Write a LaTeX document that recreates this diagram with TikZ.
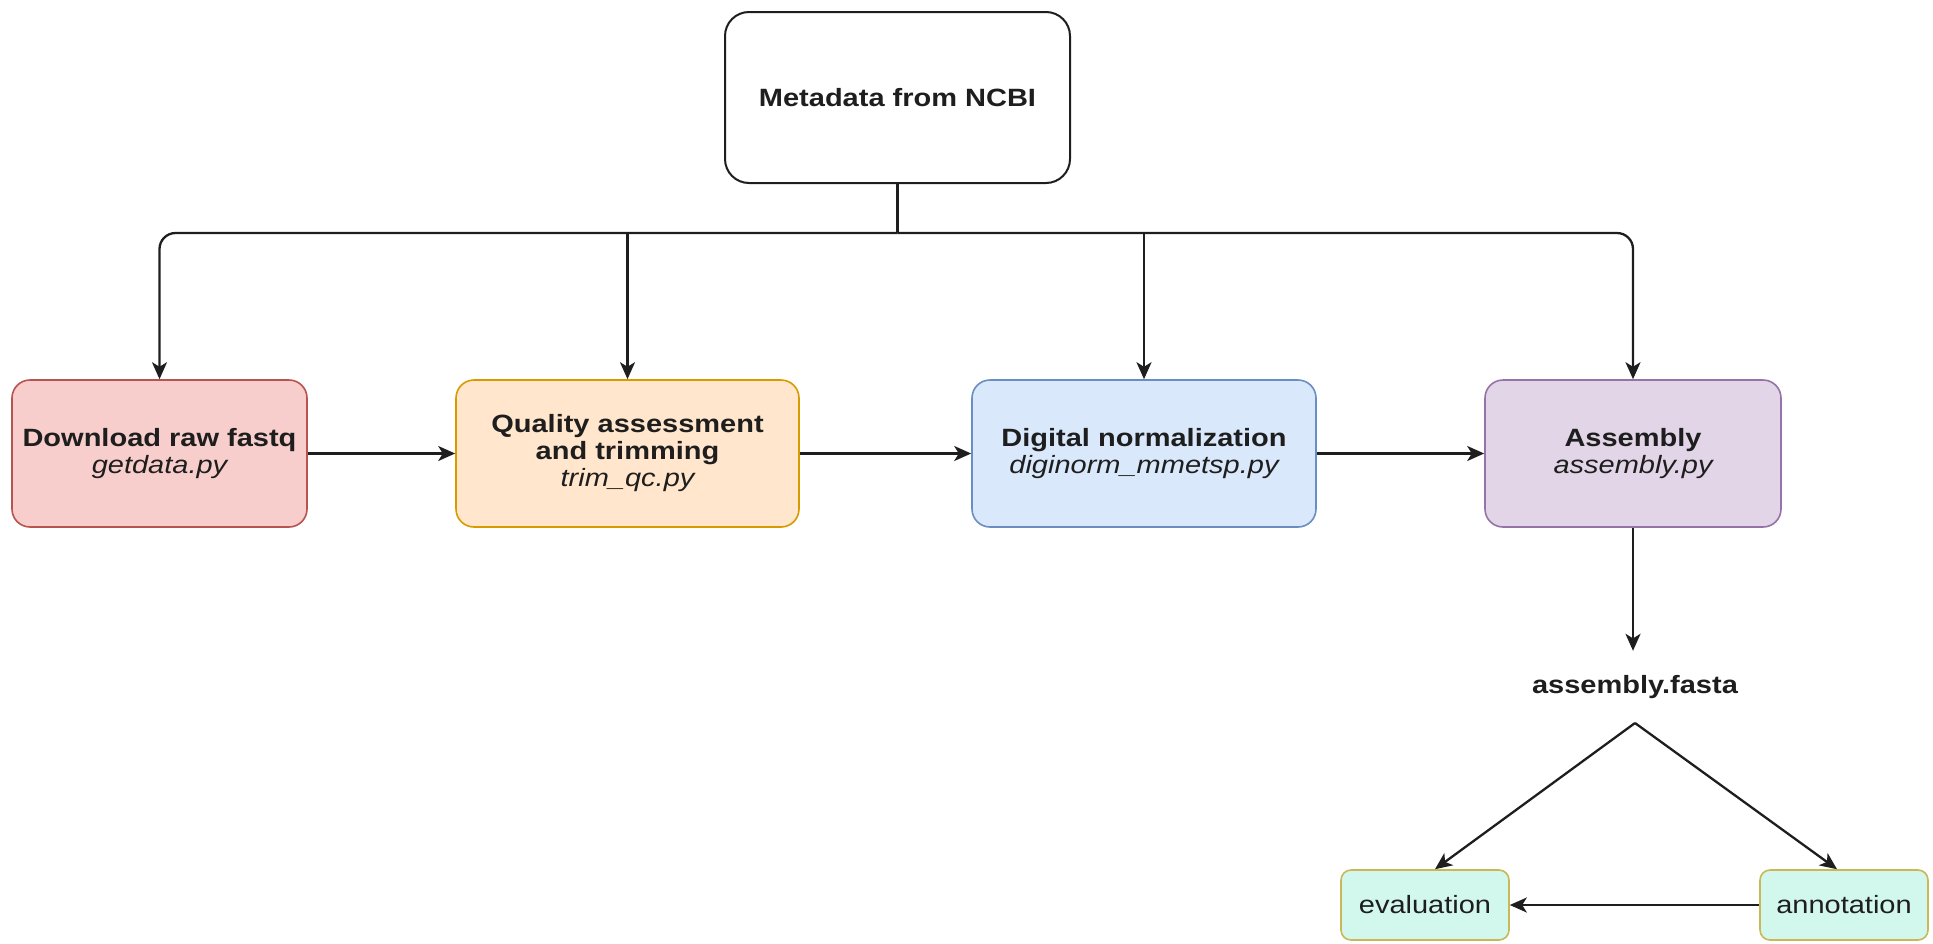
\documentclass[tikz,border=0pt]{standalone}
\usepackage{fontspec}
\setmainfont{Liberation Sans}[FakeStretch=1.16]
\usetikzlibrary{arrows.meta,calc}
\definecolor{linec}{HTML}{1E1E1E}
\definecolor{redF}{HTML}{F8CECC}\definecolor{redD}{HTML}{B85450}
\definecolor{oraF}{HTML}{FFE6CC}\definecolor{oraD}{HTML}{D79B00}
\definecolor{bluF}{HTML}{DAE8FC}\definecolor{bluD}{HTML}{6C8EBF}
\definecolor{purF}{HTML}{E1D5E7}\definecolor{purD}{HTML}{9673A6}
\definecolor{grnF}{HTML}{D2F7EC}\definecolor{grnD}{HTML}{C9B758}
\tikzset{
  txt/.style={font=\fontsize{12.5}{13.5}\selectfont, align=center, text=linec},
  stepbox/.style={txt, rounded corners=9pt, draw, line width=0.8pt, inner sep=0pt,
     minimum height=73.5pt},
  smallbox/.style={txt, rounded corners=5pt, draw, line width=0.8pt, inner sep=0pt,
     minimum width=84pt, minimum height=35pt},
  conn/.style={draw=linec, line width=1.15pt},
  arr/.style={conn, -{Stealth[length=8.5pt,width=7.5pt,inset=2.3pt]}},
}
\begin{document}
\begin{tikzpicture}[x=0.5pt,y=-0.5pt]
\useasboundingbox (0,0) rectangle (1933,943);

\node[txt, draw=linec, line width=1pt, rounded corners=12pt, fill=white,
      minimum width=172.5pt, minimum height=85.5pt, inner sep=0pt] (top) at (897.5,97.5)
      {\bfseries Metadata from NCBI};

\node[stepbox, fill=redF, draw=redD, minimum width=147.5pt] (dl) at (159.5,453.5)
  {\bfseries Download raw fastq\\\itshape getdata.py};
\node[stepbox, fill=oraF, draw=oraD, minimum width=171.5pt] (qa) at (627.5,453.5)
  {\bfseries Quality assessment\\\bfseries and trimming\\\itshape trim\_qc.py};
\node[stepbox, fill=bluF, draw=bluD, minimum width=172pt] (dn) at (1144,453.5)
  {\bfseries Digital normalization\\\itshape diginorm\_mmetsp.py};
\node[stepbox, fill=purF, draw=purD, minimum width=148pt] (as) at (1633,453.5)
  {\bfseries Assembly\\\itshape assembly.py};

\node[txt, inner sep=0pt] (fa) at (1635,687) {\bfseries assembly.fasta};
\coordinate (apex) at (1635,723);
\coordinate (bus) at (897.5,233);

\node[smallbox, fill=grnF, draw=grnD] (ev) at (1425,905) {evaluation};
\node[smallbox, fill=grnF, draw=grnD] (an) at (1844,905) {annotation};

% bus from metadata
\draw[conn] (top.south) -- (bus);
\draw[arr, rounded corners=8pt] (bus) -| (dl.north);
\draw[arr, rounded corners=8pt] (bus) -| (as.north);
\draw[arr] (bus -| qa.north) -- (qa.north);
\draw[arr] (bus -| dn.north) -- (dn.north);

% pipeline
\draw[arr] (dl.east) -- (qa.west);
\draw[arr] (qa.east) -- (dn.west);
\draw[arr] (dn.east) -- (as.west);
\draw[arr] (as.south) -- ($(as.south)+(0,123)$) coordinate (asend);

% outputs
\draw[arr] (apex) -- ([xshift=5pt]ev.north);
\draw[arr] (apex) -- ([xshift=-3.5pt]an.north);
\draw[arr] (an.west) -- (ev.east);
\end{tikzpicture}
\end{document}
